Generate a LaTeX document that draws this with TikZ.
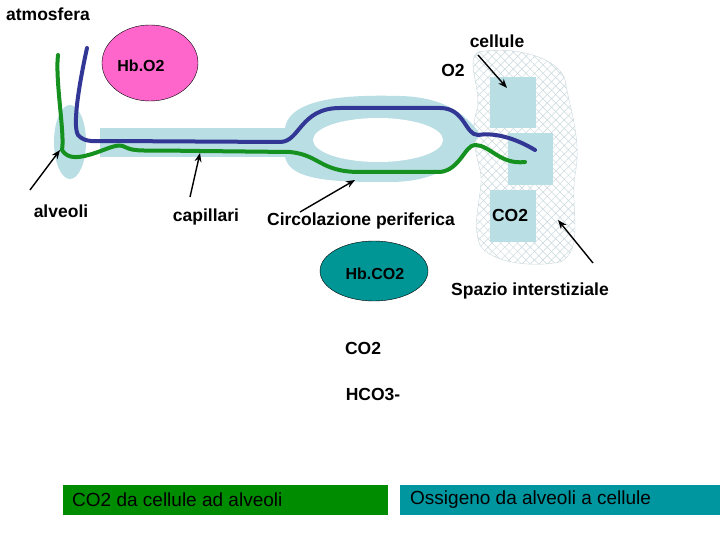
\documentclass[tikz,border=0pt]{standalone}
\usepackage{fontspec}
\setmainfont{Liberation Sans}
\usetikzlibrary{patterns.meta,arrows.meta,shapes.geometric}
\definecolor{tis}{RGB}{185,222,228}
\definecolor{vblue}{RGB}{50,55,150}
\definecolor{vgreen}{RGB}{20,145,30}
\definecolor{pinkhb}{RGB}{255,102,204}
\definecolor{tealhb}{RGB}{0,150,150}
\definecolor{boxgreen}{RGB}{0,140,0}
\definecolor{boxteal}{RGB}{0,150,160}
\definecolor{hatch}{RGB}{200,215,220}
\begin{document}
\begin{tikzpicture}[x=1pt,y=-1pt,
  lbl/.style={font=\fontsize{17.5}{20}\selectfont\bfseries,inner sep=0},
  arr/.style={-{Stealth[length=9pt,width=7pt]},line width=1.4pt},
  vessel/.style={line width=4pt,line cap=round,line join=round}]
\useasboundingbox (0,0) rectangle (720,540);
% alveolus and capillaries
\fill[tis] (70,142) ellipse [x radius=16,y radius=37];
\fill[tis] (100,128) rectangle (285,157);
\fill[tis] (285,128) .. controls (290,95) and (360,95) .. (400,96) .. controls (450,97) and (470,120) .. (480,134)
  .. controls (470,150) and (450,182) .. (390,182) .. controls (340,182) and (290,182) .. (285,157) -- cycle;
\fill[white] (378,140) ellipse [x radius=65,y radius=22];
% cells
\def\blob{(478,52) .. controls (520,45) and (560,60) .. (565,80) .. controls (570,110) and (582,140) .. (575,175)
  .. controls (570,210) and (585,250) .. (560,262) .. controls (530,268) and (490,262) .. (480,245)
  .. controls (470,220) and (485,190) .. (480,170) .. controls (475,150) and (470,130) .. (477,110)
  .. controls (482,90) and (465,60) .. (478,52) -- cycle}
\path[pattern={Lines[angle=45,distance=6pt,line width=0.5pt]},pattern color=hatch] \blob;
\path[pattern={Lines[angle=-45,distance=6pt,line width=0.5pt]},pattern color=hatch,draw=hatch] \blob;
\fill[tis] (490,77) rectangle (536,128);
\fill[tis] (508,133) rectangle (553,185);
\fill[tis] (490,190) rectangle (536,242);
% vessels
\draw[vessel,vblue] (87,48) .. controls (80,80) and (72,125) .. (78,135) .. controls (85,143) and (95,141) .. (110,141)
  -- (280,142) .. controls (300,142) and (300,108) .. (340,108) -- (440,108) .. controls (465,108) and (465,135) .. (478,135)
  .. controls (490,133) and (510,135) .. (535,150);
\draw[vessel,vgreen] (58,55) .. controls (55,80) and (65,135) .. (62,150) .. controls (68,160) and (80,158) .. (95,153)
  .. controls (110,148) and (118,143) .. (125,147) .. controls (135,152) and (140,150) .. (200,151) -- (290,152)
  .. controls (320,155) and (320,172) .. (360,172) -- (440,172) .. controls (460,170) and (465,145) .. (475,145)
  .. controls (490,145) and (500,165) .. (525,162);
% ellipses
\node[draw=black,fill=pinkhb,ellipse,minimum width=96pt,minimum height=76pt,inner sep=0] (hbo) at (150,63) {};
\node[lbl,font=\fontsize{16}{18}\selectfont\bfseries] at (141,66) {Hb.O2};
\node[draw=black,fill=tealhb,ellipse,minimum width=108pt,minimum height=60pt,inner sep=0] (hbco) at (374,271) {};
\node[lbl,font=\fontsize{16}{18}\selectfont\bfseries] at (375,274) {Hb.CO2};
% labels
\node[lbl] (atm) at (48,14) {atmosfera};
\node[lbl] (cel) at (497,41) {cellule};
\node[lbl] (o2) at (453,70) {O2};
\node[lbl] (alv) at (61,211) {alveoli};
\node[lbl] (cap) at (206,217) {capillari};
\node[lbl] (circ) at (361,221) {Circolazione periferica};
\node[lbl] (co2c) at (510,215) {CO2};
\node[lbl] (spa) at (530,291) {Spazio interstiziale};
\node[lbl] (co2) at (363,348) {CO2};
\node[lbl] (hco) at (373,394) {HCO3-};
% arrows
\coordinate (a1) at (30,190); \coordinate (a2) at (60,150);
\coordinate (b1) at (190,197); \coordinate (b2) at (200,153);
\coordinate (c1) at (300,212); \coordinate (c2) at (355,180);
\coordinate (d1) at (478,55); \coordinate (d2) at (507,88);
\coordinate (e1) at (593,263); \coordinate (e2) at (558,220);
\draw[arr] (a1) -- (a2);
\draw[arr] (b1) -- (b2);
\draw[arr] (c1) -- (c2);
\draw[arr] (d1) -- (d2);
\draw[arr] (e1) -- (e2);
% bottom boxes
\fill[boxgreen] (63,485) rectangle (388,515);
\node[anchor=west,font=\fontsize{19}{21}\selectfont,inner sep=0] (bl) at (72,500) {CO2 da cellule ad alveoli};
\fill[boxteal] (400,485) rectangle (720,515);
\node[anchor=west,font=\fontsize{19}{21}\selectfont,inner sep=0] (br) at (410,500) {Ossigeno da alveoli a cellule};
\end{tikzpicture}
\end{document}
